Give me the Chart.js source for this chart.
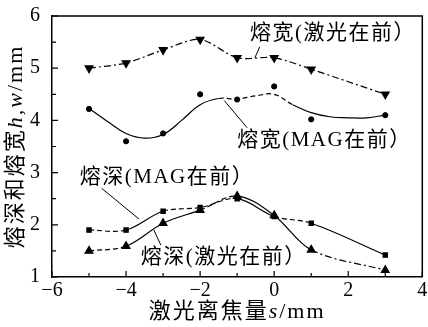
<!DOCTYPE html>
<html>
<head>
<meta charset="utf-8">
<script src="https://cdn.jsdelivr.net/npm/chart.js@4"></script>
<style>
  html, body { margin: 0; padding: 0; background: #fff; }
  #wrap { width: 428px; height: 327px; }
</style>
</head>
<body>
<div id="wrap"><canvas id="c"></canvas></div>
<script>
// measured positions (defocus s, mm)
const xs = [-5, -4, -3, -2, -1, 0, 1, 3];

// weld width, laser leading (down triangles)
const widthLaser = [5.0, 5.1, 5.35, 5.55, 5.2, 5.2, 4.98, 4.5];
// weld width, MAG leading (dots)
const widthMag = [4.22, 3.6, 3.75, 4.5, 4.4, 4.65, 4.02, 4.1];
// fitted curve through MAG-leading width
const widthMagFitX = [-5, -4.5, -4, -3.5, -3, -2.5, -2, -1.5, -1, -0.5, 0, 0.5, 1, 1.5, 2, 2.5, 3];
const widthMagFitY = [4.23, 3.98, 3.75, 3.66, 3.73, 4.0, 4.3, 4.42, 4.41, 4.47, 4.5, 4.3, 4.15, 4.07, 4.05, 4.05, 4.1];
// penetration depth, MAG leading
const depthMag = [1.9, 1.9, 2.26, 2.33, 2.5, 2.16, 2.03, 1.42];
// penetration depth, laser leading (up triangles)
const depthLaser = [1.5, 1.59, 2.03, 2.28, 2.55, 2.18, 1.52, 1.13];

const xTicks = [-6, -4, -2, 0, 2, 4];
const yTicks = [1, 2, 3, 4, 5, 6];

const labels = [
  { text: '熔宽(激光在前）', x: -0.65, y: 5.66, from: [-0.39, 5.41], to: [-0.52, 5.2] },
  { text: '熔宽(MAG在前）', x: -1.0, y: 3.61, from: [-0.73, 3.86], to: [-1.35, 4.38] },
  { text: '熔深(MAG在前）', x: -5.25, y: 2.91, from: [-4.66, 2.70], to: [-3.65, 2.11] },
  { text: '熔深(激光在前）', x: -3.6, y: 1.38, from: [-3.06, 1.61], to: [-3.25, 1.90] }
];

const pts = (ys) => xs.map((x, i) => ({ x: x, y: ys[i] }));
const between = (ctx, ranges) => ranges.some(r => ctx.p0.parsed.x >= r[0] && ctx.p1.parsed.x <= r[1]);

const FONT = "'Liberation Serif', 'Noto Sans CJK SC'";

// draws a title made of [text, italic] parts, centred on (0,0)
function drawParts(ctx, parts, size) {
  const fonts = parts.map(p => (p[1] ? 'italic ' : '') + size + 'px ' + FONT);
  let total = 0;
  const widths = parts.map((p, i) => { ctx.font = fonts[i]; const w = ctx.measureText(p[0]).width; total += w; return w; });
  let cx = -total / 2;
  ctx.textAlign = 'left';
  parts.forEach((p, i) => { ctx.font = fonts[i]; ctx.fillText(p[0], cx, 0); cx += widths[i]; });
}

const decor = {
  id: 'decor',
  afterDraw(chart) {
    const { ctx, chartArea: a, scales: { x, y } } = chart;
    ctx.save();
    ctx.strokeStyle = '#000';
    ctx.fillStyle = '#000';
    ctx.lineWidth = 1.5;
    // frame top + right
    ctx.beginPath();
    ctx.moveTo(a.left, a.top); ctx.lineTo(a.right, a.top); ctx.lineTo(a.right, a.bottom);
    ctx.stroke();
    // inward ticks
    ctx.lineWidth = 1.2;
    ctx.beginPath();
    for (let v = -6; v <= 4; v += 1) {
      const px = x.getPixelForValue(v);
      const len = v % 2 === 0 ? 6 : 4;
      ctx.moveTo(px, a.bottom); ctx.lineTo(px, a.bottom - len);
    }
    for (let v = 1; v <= 6; v += 0.5) {
      const py = y.getPixelForValue(v);
      const len = v % 1 === 0 ? 6 : 4;
      ctx.moveTo(a.left, py); ctx.lineTo(a.left + len, py);
    }
    ctx.stroke();
    // leaders + labels
    ctx.lineWidth = 1;
    ctx.font = '21px ' + FONT;
    ctx.letterSpacing = '1.5px';
    ctx.textAlign = 'left';
    ctx.textBaseline = 'middle';
    labels.forEach(l => {
      ctx.beginPath();
      ctx.moveTo(x.getPixelForValue(l.from[0]), y.getPixelForValue(l.from[1]));
      ctx.lineTo(x.getPixelForValue(l.to[0]), y.getPixelForValue(l.to[1]));
      ctx.stroke();
      ctx.fillText(l.text, x.getPixelForValue(l.x), y.getPixelForValue(l.y));
    });
    // axis titles
    ctx.letterSpacing = '2px';
    ctx.save();
    ctx.translate((a.left + a.right) / 2, 312);
    drawParts(ctx, [['激光离焦量', false], ['s', true], ['/mm', false]], 22);
    ctx.restore();
    ctx.translate(16, (a.top + a.bottom) / 2);
    ctx.rotate(-Math.PI / 2);
    drawParts(ctx, [['熔深和熔宽', false], ['h,w', true], ['/mm', false]], 22);
    ctx.restore();
  }
};

new Chart(document.getElementById('c'), {
  type: 'line',
  data: {
    datasets: [
      {
        data: pts(widthLaser),
        borderColor: '#000', backgroundColor: '#000', borderWidth: 1.2,
        borderDash: [7, 3, 2, 3], tension: 0.3,
        pointStyle: 'triangle', rotation: 180, pointRadius: 4.5
      },
      {
        data: widthMagFitX.map((x, i) => ({ x: x, y: widthMagFitY[i] })),
        borderColor: '#000', borderWidth: 1.2, tension: 0.4, pointRadius: 0,
        segment: { borderDash: ctx => between(ctx, [[-1.5, 0.5]]) ? [5, 3] : undefined }
      },
      {
        data: pts(widthMag), showLine: false,
        backgroundColor: '#000', borderColor: '#000', pointStyle: 'circle', pointRadius: 2.6
      },
      {
        data: pts(depthMag),
        borderColor: '#000', backgroundColor: '#000', borderWidth: 1.2, tension: 0.35,
        pointStyle: 'rect', pointRadius: 3,
        segment: { borderDash: ctx => between(ctx, [[-4, -3], [-1, 0], [1, 3]]) ? undefined : [5, 3] }
      },
      {
        data: pts(depthLaser),
        borderColor: '#000', backgroundColor: '#000', borderWidth: 1.2, tension: 0.35,
        pointStyle: 'triangle', pointRadius: 4.5,
        segment: { borderDash: ctx => between(ctx, [[-4, -2], [-1, 1]]) ? undefined : (ctx.p0.parsed.x >= 1 ? [7, 3, 2, 3] : [5, 3]) }
      }
    ]
  },
  options: {
    responsive: true,
    maintainAspectRatio: false,
    animation: false,
    layout: { padding: { top: 15, right: 2, left: 0, bottom: 0 } },
    plugins: { legend: { display: false }, tooltip: { enabled: false } },
    scales: {
      x: {
        type: 'linear', min: -6, max: 4,
        afterFit: s => { s.height = 50; },
        afterBuildTicks: s => { s.ticks = xTicks.map(v => ({ value: v })); },
        grid: { display: false },
        border: { display: true, color: '#000', width: 1.5 },
        ticks: {
          color: '#000', padding: -6, maxRotation: 0,
          font: { family: "'Liberation Serif'", size: 20 },
          callback: v => (v < 0 ? '\u2212' + (-v) : '' + v)
        }
      },
      y: {
        min: 1, max: 6,
        afterFit: s => { s.width = 52; },
        afterBuildTicks: s => { s.ticks = yTicks.map(v => ({ value: v })); },
        grid: { display: false },
        border: { display: true, color: '#000', width: 1.5 },
        ticks: {
          color: '#000', padding: 4,
          font: { family: "'Liberation Serif'", size: 20 }
        }
      }
    }
  },
  plugins: [decor]
});
</script>
</body>
</html>
